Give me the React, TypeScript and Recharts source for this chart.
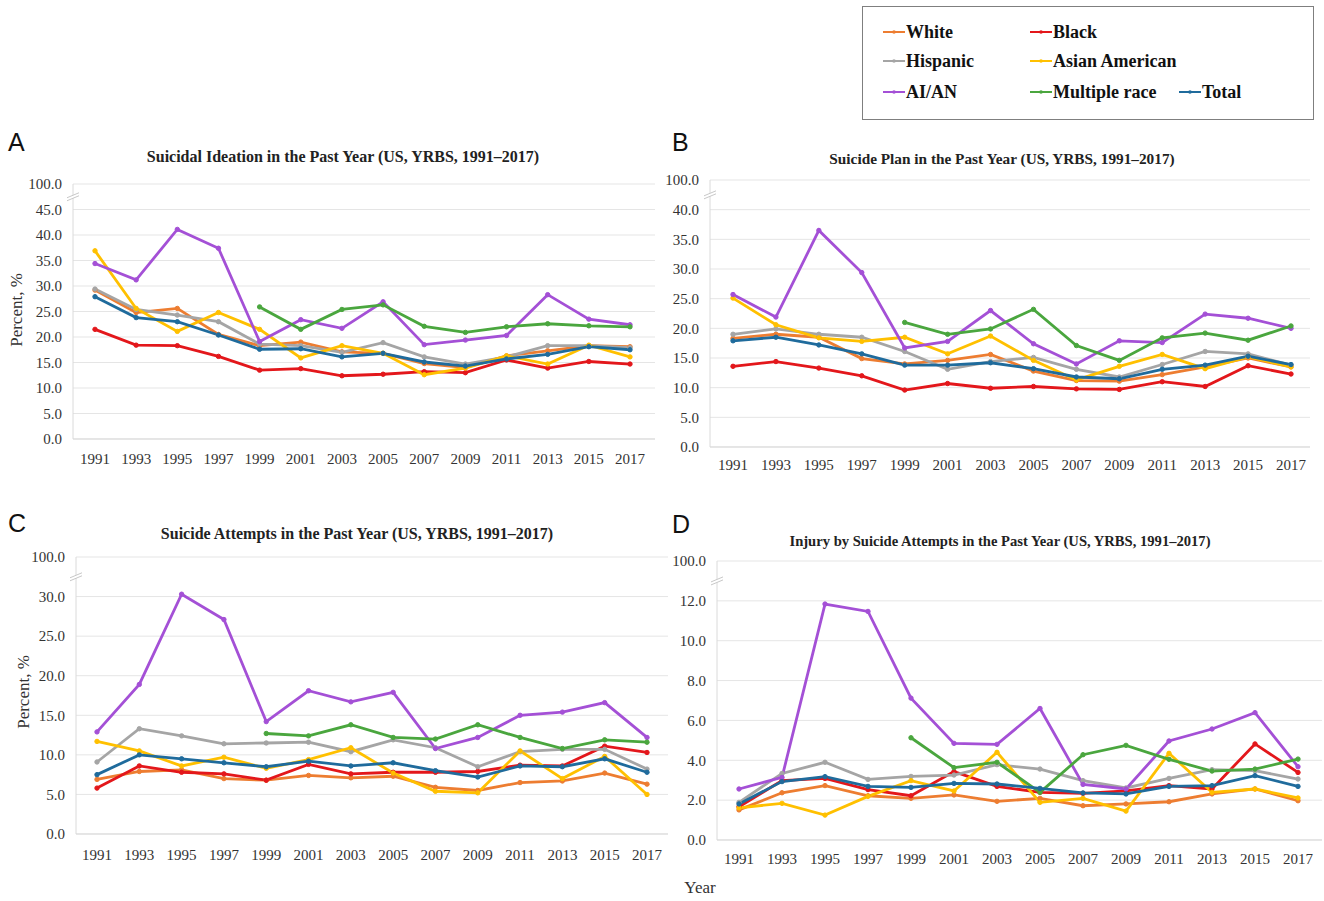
import React from 'react';
import { LineChart, Line, XAxis, YAxis, CartesianGrid } from 'recharts';

const SERIF = "'Liberation Serif', 'Times New Roman', serif";
const SANS = "'Liberation Sans', Arial, sans-serif";

const years = ['1991', '1993', '1995', '1997', '1999', '2001', '2003', '2005', '2007', '2009', '2011', '2013', '2015', '2017'];
const seriesNames = ['White', 'Black', 'Hispanic', 'Asian American', 'AI/AN', 'Multiple race', 'Total'];
const seriesKeys = ['white', 'black', 'hispanic', 'asian', 'aian', 'multiple', 'total'];
const seriesColors = ['#ED7D31', '#E3171B', '#A5A5A5', '#FFC000', '#A450D6', '#4AA63E', '#1F6B9C'];
const breakLabel = '100.0';

// A: Suicidal ideation
const ideationWhite = [29.2, 24.8, 25.6, 20.5, 18.3, 19.0, 17.1, 16.8, 14.8, 14.0, 16.3, 17.3, 18.3, 18.1];
const ideationBlack = [21.5, 18.4, 18.3, 16.2, 13.5, 13.8, 12.4, 12.7, 13.2, 13.0, 15.5, 13.9, 15.2, 14.7];
const ideationHispanic = [29.4, 25.4, 24.3, 23.0, 18.6, 18.3, 17.0, 18.9, 16.1, 14.7, 16.1, 18.3, 18.3, 17.9];
const ideationAsian = [36.9, 25.6, 21.1, 24.8, 21.5, 15.9, 18.3, 16.8, 12.6, 13.9, 16.3, 14.7, 18.4, 16.1];
const ideationAIAN = [34.4, 31.2, 41.1, 37.4, 19.1, 23.4, 21.7, 26.9, 18.5, 19.4, 20.3, 28.3, 23.5, 22.4];
const ideationMultiple = [null, null, null, null, 25.9, 21.5, 25.4, 26.3, 22.1, 20.9, 22.0, 22.6, 22.2, 22.0];
const ideationTotal = [27.9, 23.8, 23.0, 20.4, 17.6, 17.7, 16.1, 16.8, 15.1, 14.3, 15.7, 16.6, 18.1, 17.5];
const ideationTicks = [0, 5, 10, 15, 20, 25, 30, 35, 40, 45, 50];

// B: Suicide plan
const planWhite = [18.3, 19.0, 18.5, 14.9, 14.0, 14.6, 15.6, 12.8, 11.2, 11.1, 12.2, 13.5, 15.0, 13.5];
const planBlack = [13.6, 14.4, 13.3, 12.0, 9.6, 10.7, 9.9, 10.2, 9.8, 9.7, 11.0, 10.2, 13.7, 12.3];
const planHispanic = [19.0, 19.9, 19.0, 18.5, 16.1, 13.1, 14.4, 15.1, 13.1, 11.8, 13.9, 16.1, 15.7, 13.8];
const planAsian = [25.1, 20.6, 18.4, 17.8, 18.5, 15.7, 18.7, 14.6, 11.3, 13.6, 15.6, 13.2, 15.2, 13.5];
const planAIAN = [25.7, 21.9, 36.5, 29.4, 16.7, 17.8, 23.0, 17.4, 14.0, 17.9, 17.6, 22.4, 21.7, 20.0];
const planMultiple = [null, null, null, null, 21.0, 19.0, 19.9, 23.2, 17.1, 14.6, 18.4, 19.2, 18.0, 20.4];
const planTotal = [17.9, 18.5, 17.2, 15.7, 13.8, 13.8, 14.2, 13.2, 11.8, 11.5, 13.1, 13.8, 15.3, 13.9];
const planTicks = [0, 5, 10, 15, 20, 25, 30, 35, 40, 45];

// C: Suicide attempts
const attemptWhite = [6.9, 7.9, 8.1, 7.0, 6.8, 7.4, 7.1, 7.3, 5.9, 5.5, 6.5, 6.7, 7.7, 6.3];
const attemptBlack = [5.8, 8.6, 7.8, 7.6, 6.8, 8.8, 7.6, 7.8, 7.8, 7.9, 8.7, 8.6, 11.1, 10.3];
const attemptHispanic = [9.1, 13.3, 12.4, 11.4, 11.5, 11.6, 10.4, 11.9, 10.9, 8.5, 10.4, 10.7, 10.7, 8.2];
const attemptAsian = [11.7, 10.5, 8.6, 9.7, 8.3, 9.4, 10.9, 7.7, 5.4, 5.2, 10.5, 7.0, 9.8, 5.0];
const attemptAIAN = [12.9, 18.9, 30.3, 27.1, 14.2, 18.1, 16.7, 17.9, 10.8, 12.2, 15.0, 15.4, 16.6, 12.2];
const attemptMultiple = [null, null, null, null, 12.7, 12.4, 13.8, 12.2, 12.0, 13.8, 12.2, 10.8, 11.9, 11.6];
const attemptTotal = [7.5, 10.0, 9.5, 9.0, 8.5, 9.2, 8.6, 9.0, 8.0, 7.2, 8.6, 8.5, 9.5, 7.8];
const attemptTicks = [0, 5, 10, 15, 20, 25, 30, 35];

// D: Injury by suicide attempts
const injuryWhite = [1.51, 2.37, 2.73, 2.22, 2.09, 2.26, 1.94, 2.09, 1.72, 1.81, 1.92, 2.31, 2.56, 1.97];
const injuryBlack = [1.67, 2.98, 3.09, 2.53, 2.22, 3.43, 2.69, 2.39, 2.34, 2.47, 2.73, 2.56, 4.82, 3.39];
const injuryHispanic = [1.89, 3.34, 3.9, 3.04, 3.19, 3.26, 3.78, 3.56, 2.98, 2.61, 3.09, 3.53, 3.48, 3.06];
const injuryAsian = [1.61, 1.84, 1.25, 2.19, 2.98, 2.46, 4.4, 1.89, 2.09, 1.45, 4.35, 2.39, 2.56, 2.11];
const injuryAIAN = [2.56, 3.14, 11.84, 11.47, 7.12, 4.85, 4.8, 6.6, 2.79, 2.56, 4.97, 5.57, 6.39, 3.68];
const injuryMultiple = [null, null, null, null, 5.13, 3.63, 3.9, 2.39, 4.28, 4.75, 4.05, 3.46, 3.56, 4.06];
const injuryTotal = [1.81, 2.93, 3.18, 2.69, 2.64, 2.84, 2.81, 2.59, 2.36, 2.31, 2.69, 2.73, 3.23, 2.69];
const injuryTicks = [0, 2, 4, 6, 8, 10, 12, 14];

const buildRows = (cols: (number | null)[][]) =>
  years.map((y, i) => {
    const row: any = { year: y };
    seriesKeys.forEach((k, j) => {
      row[k] = cols[j][i];
    });
    return row;
  });

const panels = [
  {
    letter: 'A', title: 'Suicidal Ideation in the Past Year (US, YRBS, 1991–2017)',
    rows: buildRows([ideationWhite, ideationBlack, ideationHispanic, ideationAsian, ideationAIAN, ideationMultiple, ideationTotal]),
    ticks: ideationTicks,
    left: 0, top: 150, width: 660, height: 319, mTop: 34, mRight: 5, axisW: 73, padL: 22, padR: 25, xMargin: 14, fontTitle: 16,
    titleX: 343, titleY: 162, letterX: 8, letterY: 151, ylabel: true, ylabelX: 16, ylabelY: 310,
  },
  {
    letter: 'B', title: 'Suicide Plan in the Past Year (US, YRBS, 1991–2017)',
    rows: buildRows([planWhite, planBlack, planHispanic, planAsian, planAIAN, planMultiple, planTotal]),
    ticks: planTicks,
    left: 660, top: 150, width: 664, height: 327, mTop: 30, mRight: 14, axisW: 50, padL: 23, padR: 19, xMargin: 12, fontTitle: 15.3,
    titleX: 1002, titleY: 164, letterX: 672, letterY: 151, ylabel: false, ylabelX: 0, ylabelY: 0,
  },
  {
    letter: 'C', title: 'Suicide Attempts in the Past Year (US, YRBS, 1991–2017)',
    rows: buildRows([attemptWhite, attemptBlack, attemptHispanic, attemptAsian, attemptAIAN, attemptMultiple, attemptTotal]),
    ticks: attemptTicks,
    left: 0, top: 520, width: 668, height: 344, mTop: 37, mRight: 0, axisW: 76, padL: 21, padR: 21, xMargin: 15, fontTitle: 16,
    titleX: 357, titleY: 539, letterX: 8, letterY: 532, ylabel: true, ylabelX: 23, ylabelY: 692,
  },
  {
    letter: 'D', title: 'Injury by Suicide Attempts in the Past Year (US, YRBS, 1991–2017)',
    rows: buildRows([injuryWhite, injuryBlack, injuryHispanic, injuryAsian, injuryAIAN, injuryMultiple, injuryTotal]),
    ticks: injuryTicks,
    left: 660, top: 520, width: 664, height: 350, mTop: 41, mRight: 2, axisW: 57, padL: 22, padR: 24, xMargin: 13, fontTitle: 14.6,
    titleX: 1000, titleY: 546, letterX: 672, letterY: 533, ylabel: false, ylabelX: 0, ylabelY: 0,
  },
];

const YTick = (props: any) => {
  const { x, y, payload, topTick, gap } = props;
  const isTop = payload.value === topTick;
  const label = isTop ? breakLabel : Number(payload.value).toFixed(1);
  const ax = x + 11;
  const cy = y + gap / 2;
  return (
    <g>
      <text x={x} y={y} dy="0.35em" textAnchor="end" fontSize={15} fill="#333" fontFamily={SERIF}>
        {label}
      </text>
      {isTop && (
        <g>
          <polygon points={`${ax - 6},${cy + 1} ${ax + 6},${cy - 4} ${ax + 6},${cy - 1} ${ax - 6},${cy + 4}`} fill="#fff" />
          <line x1={ax - 6} y1={cy + 1} x2={ax + 6} y2={cy - 4} stroke="#C8C8C8" strokeWidth={1} />
          <line x1={ax - 6} y1={cy + 4} x2={ax + 6} y2={cy - 1} stroke="#C8C8C8" strokeWidth={1} />
        </g>
      )}
    </g>
  );
};

const Panel = ({ p }: { p: any }) => {
  const topTick = p.ticks[p.ticks.length - 1];
  const plotH = p.height - p.mTop - 30;
  const gap = plotH / (p.ticks.length - 1);
  return (
    <div style={{ position: 'absolute', left: p.left, top: p.top }}>
      <LineChart width={p.width} height={p.height} data={p.rows} margin={{ top: p.mTop, right: p.mRight, bottom: 0, left: 0 }}>
        <CartesianGrid vertical={false} stroke="#E5E5E5" strokeWidth={1} />
        <XAxis
          dataKey="year"
          height={30}
          padding={{ left: p.padL, right: p.padR }}
          tickLine={false}
          tickSize={0}
          tickMargin={p.xMargin}
          axisLine={{ stroke: '#D9D9D9' }}
          interval={0}
          tick={{ fontSize: 15, fill: '#333', fontFamily: SERIF }}
        />
        <YAxis
          width={p.axisW}
          domain={[0, topTick]}
          ticks={p.ticks}
          interval={0}
          tickLine={false}
          tickSize={0}
          tickMargin={11}
          axisLine={{ stroke: '#DADADA' }}
          tick={<YTick topTick={topTick} gap={gap} />}
        />
        {seriesKeys.map((k, i) => (
          <Line
            key={k}
            dataKey={k}
            name={seriesNames[i]}
            stroke={seriesColors[i]}
            strokeWidth={2.8}
            dot={{ r: 2.2, fill: seriesColors[i], stroke: seriesColors[i], strokeWidth: 1 }}
            isAnimationActive={false}
            connectNulls={false}
          />
        ))}
      </LineChart>
    </div>
  );
};

const legendPos = [
  [883, 32], [1030, 32],
  [883, 61], [1030, 61],
  [883, 92], [1030, 92], [1179, 92],
];

export default function App() {
  return (
    <div style={{ position: 'absolute', left: 0, top: 0, width: 1324, height: 901, background: '#fff' }}>
      {panels.map((p) => (
        <Panel key={p.letter} p={p} />
      ))}
      <svg width={1324} height={901} style={{ position: 'absolute', left: 0, top: 0, pointerEvents: 'none' }}>
        {panels.map((p) => (
          <g key={'t' + p.letter}>
            <text x={p.letterX} y={p.letterY} fontSize={25} fontFamily={SANS} fill="#111">{p.letter}</text>
            <text x={p.titleX} y={p.titleY} fontSize={p.fontTitle} fontWeight="bold" textAnchor="middle" fontFamily={SERIF} fill="#222">{p.title}</text>
            {p.ylabel && (
              <text x={p.ylabelX} y={p.ylabelY} fontSize={17} textAnchor="middle" fontFamily={SERIF} fill="#333" transform={`rotate(-90 ${p.ylabelX} ${p.ylabelY})`} dy="0.35em">Percent, %</text>
            )}
          </g>
        ))}
        <text x={700} y={893} fontSize={17} textAnchor="middle" fontFamily={SERIF} fill="#333">Year</text>
        <rect x={862.5} y={6.5} width={451} height={113} fill="#fff" stroke="#7F7F7F" strokeWidth={1} />
        {seriesNames.map((n, i) => {
          const [lx, ly] = legendPos[i];
          return (
            <g key={n}>
              <line x1={lx} y1={ly} x2={lx + 22} y2={ly} stroke={seriesColors[i]} strokeWidth={2} />
              <circle cx={lx + 11} cy={ly} r={1.8} fill={seriesColors[i]} />
              <text x={lx + 23} y={ly} dy="0.35em" fontSize={18} fontWeight="bold" fontFamily={SERIF} fill="#111">{n}</text>
            </g>
          );
        })}
      </svg>
    </div>
  );
}
